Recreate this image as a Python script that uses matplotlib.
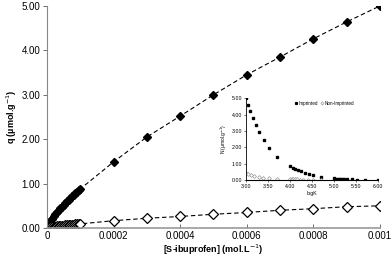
import matplotlib
matplotlib.use("Agg")
import matplotlib.pyplot as plt

plt.rcParams['font.family'] = ['Liberation Sans', 'DejaVu Sans']

# isotherm data: concentration (mol/L) vs q (umol/g)
conc = [0, 0.000005, 0.00001, 0.000015, 0.00002, 0.000025, 0.00003, 0.000035,
        0.00004, 0.000045, 0.00005, 0.000055, 0.00006, 0.000065, 0.00007,
        0.000075, 0.00008, 0.000085, 0.00009, 0.000095, 0.0001,
        0.0002, 0.0003, 0.0004, 0.0005, 0.0006, 0.0007, 0.0008, 0.0009, 0.001]
q_imprinted = [0.0, 0.09, 0.16, 0.21, 0.26, 0.31, 0.355, 0.40, 0.44, 0.48, 0.52,
               0.56, 0.60, 0.64, 0.67, 0.71, 0.74, 0.78, 0.81, 0.85, 0.88,
               1.49, 2.05, 2.52, 3.00, 3.45, 3.85, 4.26, 4.64, 5.00]
q_non = [0.0, 0.012, 0.018, 0.024, 0.029, 0.034, 0.038, 0.043, 0.047, 0.051,
         0.055, 0.059, 0.063, 0.067, 0.071, 0.075, 0.078, 0.082, 0.086, 0.089,
         0.093, 0.165, 0.22, 0.26, 0.31, 0.35, 0.40, 0.435, 0.48, 0.50]

# affinity distribution (inset)
logK_imp = [3.00, 3.05, 3.10, 3.17, 3.23, 3.30, 3.41, 3.52, 3.70, 4.00, 4.06,
            4.12, 4.19, 4.26, 4.33, 4.43, 4.53, 4.70, 5.00, 5.03, 5.06, 5.10,
            5.13, 5.18, 5.23, 5.30, 5.40, 5.52, 5.70, 6.00]
N_imp = [5.00, 4.59, 4.21, 3.80, 3.37, 2.93, 2.48, 1.99, 1.44, 0.87, 0.78,
         0.70, 0.62, 0.55, 0.47, 0.40, 0.33, 0.22, 0.12, 0.11, 0.10, 0.10,
         0.09, 0.08, 0.07, 0.06, 0.05, 0.04, 0.03, 0.02]
logK_non = [3.00, 3.06, 3.12, 3.19, 3.29, 3.40, 3.52, 3.70, 4.00, 4.04, 4.08,
            4.12, 4.16, 4.22, 4.30, 4.40, 4.53, 4.70]
N_non = [0.47, 0.39, 0.33, 0.26, 0.20, 0.16, 0.12, 0.10, 0.06, 0.06, 0.05,
         0.05, 0.05, 0.04, 0.04, 0.03, 0.03, 0.03]

xticks = [0, 0.0002, 0.0004, 0.0006, 0.0008, 0.001]
xticklabels = ['0', '0.0002', '0.0004', '0.0006', '0.0008', '0.001']
yticks = [0, 1, 2, 3, 4, 5]

fig = plt.figure(figsize=(3.92, 2.6), dpi=100)
ax = fig.add_axes([0.12, 0.123, 0.849, 0.854])

ax.plot(conc, q_imprinted, color='black', lw=0.8, dashes=(4, 2.5),
        marker='D', ms=4.5, mfc='black', mec='black')
ax.plot(conc, q_non, color='black', lw=0.8, dashes=(4, 2.5),
        marker='D', ms=5, mfc='white', mec='black', mew=0.9)

ax.set_xlim(0, 0.001)
ax.set_ylim(0, 5)
ax.set_xticks(xticks)
ax.set_xticklabels(xticklabels)
ax.set_yticks(yticks)
ax.set_yticklabels(['%.2f' % v for v in yticks])
ax.tick_params(axis='both', labelsize=7, length=3, width=0.6, colors='#555555',
               labelcolor='black', pad=2)
ax.tick_params(axis='x', direction='in')
ax.tick_params(axis='y', direction='out')
for s in ['top', 'right']:
    ax.spines[s].set_visible(False)
ax.spines['left'].set_color('#888888')
ax.spines['left'].set_linewidth(0.8)
ax.spines['bottom'].set_color('#999999')
ax.spines['bottom'].set_linewidth(1.2)
ax.set_xlabel('[S-ibuprofen] (mol.L$^{-1}$)', fontsize=6.5, fontweight='bold',
              labelpad=1)
ax.set_ylabel('q (\u00b5mol.g$^{-1}$)', fontsize=6.5, fontweight='bold',
              labelpad=2)

# inset
ins = fig.add_axes([0.627, 0.3065, 0.338, 0.3155])
ins.plot(logK_imp, N_imp, ls='none', marker='s', ms=1.6, color='black',
         label='Imprinted')
ins.plot(logK_non, N_non, ls='none', marker='D', ms=2, mfc='white',
         mec='#999999', mew=0.5, label='Non-Imprinted')
ins.set_xlim(3, 6)
ins.set_ylim(0, 5)
ins.set_xticks([3, 3.5, 4, 4.5, 5, 5.5, 6])
ins.set_xticklabels(['%.2f' % v for v in [3, 3.5, 4, 4.5, 5, 5.5, 6]])
ins.set_yticks(yticks)
ins.set_yticklabels(['%.2f' % v for v in yticks])
ins.tick_params(axis='both', labelsize=3.8, length=1.5, width=0.4, pad=1)
for s in ['top', 'right']:
    ins.spines[s].set_visible(False)
ins.spines['left'].set_linewidth(0.6)
ins.spines['bottom'].set_linewidth(0.8)
ins.set_xlabel('logK', fontsize=3.8, labelpad=1.5)
ins.set_ylabel('N (\u00b5mol.g$^{-1}$)', fontsize=3.5, labelpad=2)
ins.legend(loc='upper right', bbox_to_anchor=(0.85, 1.02), ncol=2, fontsize=3.3,
           frameon=False, handlelength=0.6, handletextpad=0.2,
           columnspacing=0.6, markerscale=0.8)

fig.savefig('out.png', dpi=100)
